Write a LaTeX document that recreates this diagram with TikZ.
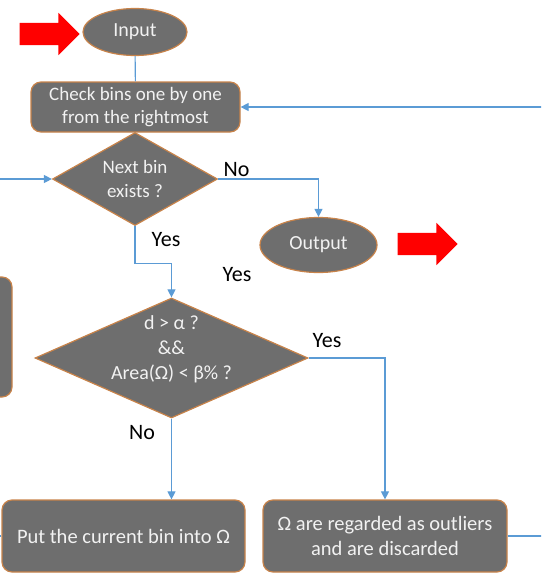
\documentclass[tikz,border=0pt]{standalone}
\usepackage{fontspec}
\setmainfont{Carlito}
\usetikzlibrary{arrows.meta,positioning,shapes.geometric,shapes.arrows}
\definecolor{FlowGray}{HTML}{6E6E6E}
\definecolor{FlowEdge}{HTML}{C8834A}
\definecolor{FlowBlue}{HTML}{5B9BD5}
\definecolor{FlowText}{HTML}{F2F2F2}
\definecolor{FlowRed}{HTML}{FF0000}
\tikzset{
  procbox/.style={draw=FlowEdge, line width=1.2pt, rounded corners=10pt, fill=FlowGray, text=FlowText, align=center, font=\fontsize{19}{23}\selectfont, inner sep=0pt},
  termbox/.style={ellipse, draw=FlowEdge, line width=1.2pt, fill=FlowGray, text=FlowText, align=center, font=\fontsize{20}{24}\selectfont, inner sep=0pt},
  decbox/.style={diamond, draw=FlowEdge, line width=1.2pt, fill=FlowGray, text=FlowText, align=center, font=\fontsize{19}{24}\selectfont, inner xsep=0pt, inner ysep=-20pt},
  redarrow/.style={single arrow, fill=FlowRed, draw=none, minimum height=60pt, single arrow head extend=10pt, inner xsep=0pt, inner ysep=11pt},
  lbl/.style={font=\fontsize{22}{26}\selectfont, text=black, inner sep=0pt},
  conn/.style={draw=FlowBlue, line width=1.1pt},
  arr/.style={conn, -{Triangle[length=8pt,width=8pt]}}
}
\begin{document}
\begin{tikzpicture}[x=1pt, y=-1pt]
\useasboundingbox (0,0) rectangle (541,573);
\clip (0,0) rectangle (541,573);
\node[termbox, minimum width=104pt, minimum height=47pt] (input) at (135,32) {Input};
\node[redarrow] (inarrow) at (44,34) {};
\node[procbox, minimum width=209pt, minimum height=50pt] (check) at (135.5,107) {Check bins one by one\\from the rightmost};
\node[decbox, shape aspect=1.77, minimum width=165pt, minimum height=93pt] (nextbin) at (135,179) {Next bin\\exists ?};
\node[termbox, minimum width=117pt, minimum height=55pt] (output) at (318.5,245) {Output};
\node[redarrow] (outarrow) at (422,244) {};
\node[decbox, shape aspect=2.275, minimum width=273pt, minimum height=120pt, font=\fontsize{20}{25}\selectfont] (cond) at (171.5,358) {d > α ?\\\&\&\\Area(Ω) < β\% ?\\[-5pt]\mbox{}};
\node[procbox, minimum width=112pt, minimum height=120pt] (prevbox) at (-44,337) {};
\node[procbox, minimum width=243pt, minimum height=72pt, font=\fontsize{20.5}{25}\selectfont] (put) at (123.5,536) {Put the current bin into Ω};
\node[procbox, minimum width=244pt, minimum height=72pt, font=\fontsize{20.5}{25}\selectfont] (outliers) at (385,536) {Ω are regarded as outliers\\and are discarded};
% connectors
\draw[conn] (input) -- (check);
\draw[arr] (nextbin.east) -| (output.north);
\draw[arr] (nextbin.south) -- ++(0,37) -| (cond.north);
\draw[arr] (cond.east) -| (outliers.north);
\draw[arr] (cond.south) -- (cond.south |- put.north);
\draw[arr] (outliers.east) -- ++(40,0) |- (check.east);
\draw[arr] (put.west) -- ++(-20,0) |- (nextbin.west);
% labels
\node[lbl] (lblno1) at (236.5,170) {No};
\node[lbl] (lblyes1) at (166,240) {Yes};
\node[lbl] (lblyes2) at (237,275) {Yes};
\node[lbl] (lblyes3) at (327,341) {Yes};
\node[lbl] (lblno2) at (142,433) {No};
\end{tikzpicture}
\end{document}
